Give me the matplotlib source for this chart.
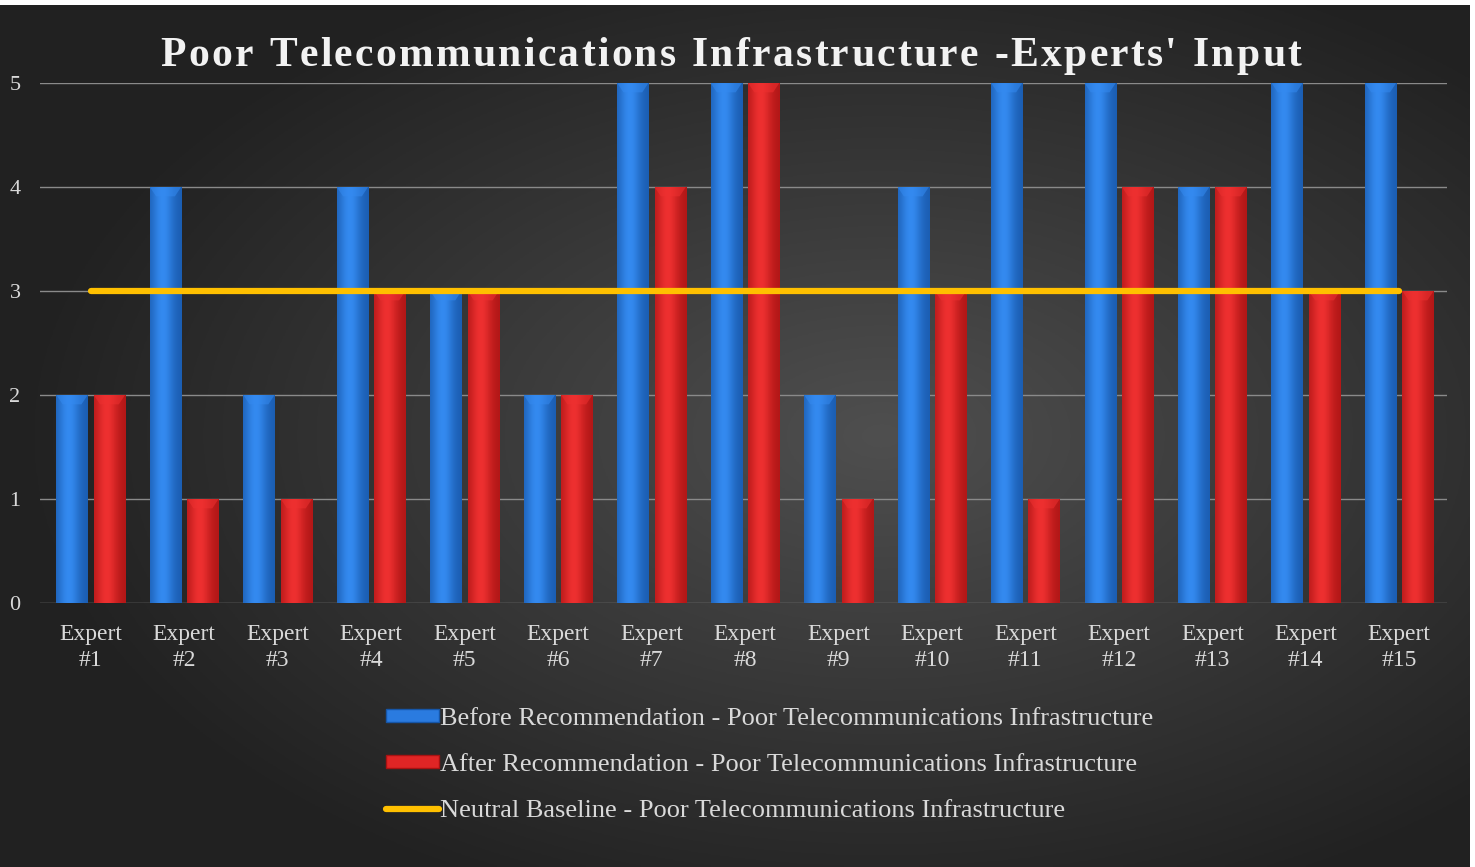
import matplotlib
matplotlib.use("Agg")
import matplotlib.pyplot as plt
import numpy as np
from matplotlib.patches import Patch
from matplotlib.lines import Line2D

experts = [f"Expert\n#{i}" for i in range(1, 16)]
before = [2, 4, 2, 4, 3, 2, 5, 5, 2, 4, 5, 5, 4, 5, 5]
after = [2, 1, 1, 3, 3, 2, 4, 5, 1, 3, 1, 4, 4, 3, 3]
baseline = [3] * 15

title = "Poor Telecommunications Infrastructure -Experts' Input"
lab_before = "Before Recommendation - Poor Telecommunications Infrastructure"
lab_after = "After Recommendation - Poor Telecommunications Infrastructure"
lab_base = "Neutral Baseline - Poor Telecommunications Infrastructure"

plt.rcParams["font.family"] = ["Liberation Serif", "DejaVu Serif"]
TXT = "#d9d9d9"

fig = plt.figure(figsize=(14.75, 8.67), dpi=100, facecolor="white")

# dark radial background
bg = fig.add_axes([0, 0, 0.996, 0.994], zorder=-5)
yy, xx = np.mgrid[0:1:300j, 0:1:500j]
r = np.sqrt(((xx - 0.6) / 0.85) ** 2 + ((yy - 0.5) / 0.85) ** 2)
shade = np.clip(0.31 - 0.26 * r, 0.13, 0.31)
bg.imshow(np.dstack([shade] * 3), extent=(0, 1, 0, 1), aspect="auto")
bg.axis("off")

# grid lines span a bit wider than the category area
grid_ax = fig.add_axes([40 / 1475, 0.3045, 1407 / 1475, 0.5998], zorder=-1)
grid_ax.patch.set_alpha(0)
grid_ax.set_ylim(0, 5)
grid_ax.set_yticks(range(6))
grid_ax.set_xticks([])
grid_ax.grid(axis="y", color="#8a8a8a", lw=1)
grid_ax.tick_params(axis="y", colors=TXT, labelsize=16, length=0, pad=14)
for s in grid_ax.spines.values():
    s.set_visible(False)

ax = fig.add_axes([44 / 1475, 0.3045, 1402 / 1475, 0.5998])
ax.patch.set_alpha(0)
x = np.arange(len(experts))
w = 0.335
bb = ax.bar(x - 0.2, before, w, color="#2a7be0", zorder=3)
ba = ax.bar(x + 0.2, after, w, color="#e02525", zorder=3)


def shade_bars(bars, dark, light):
    dark = np.array(matplotlib.colors.to_rgb(dark))
    light = np.array(matplotlib.colors.to_rgb(light))
    t = np.linspace(0, 1, 40)
    prof = np.exp(-((t - 0.4) / 0.35) ** 2)
    row = dark[None, :] + (light - dark)[None, :] * prof[:, None]
    img = row[None, :, :]
    for b in bars:
        x0, h, bw = b.get_x(), b.get_height(), b.get_width()
        im = ax.imshow(img, extent=(x0, x0 + bw, 0, h), aspect="auto", zorder=4)
        im.set_clip_path(b)
        # lighter bevel on top
        top = min(0.09, h)
        ax.fill([x0, x0 + bw, x0 + bw * 0.8, x0 + bw * 0.2],
                [h, h, h - top, h - top], color=light, alpha=0.55, zorder=5, lw=0)


shade_bars(bb, "#1a5cb0", "#348af0")
shade_bars(ba, "#b01616", "#ee3030")

ax.plot(x, baseline, color="#ffc000", lw=4.5, solid_capstyle="round", zorder=6)

ax.set_xlim(-0.5, 14.5)
ax.set_ylim(0, 5)
ax.set_yticks([])
ax.set_xticks(x)
ax.set_xticklabels(experts, color=TXT, fontsize=17, linespacing=1.35)
ax.tick_params(axis="x", length=0, pad=15)
for s in ax.spines.values():
    s.set_visible(False)

# title with letter spacing
fig.canvas.draw()
rend = fig.canvas.get_renderer()
tprops = dict(fontsize=30, fontweight="bold", color="#f2f2f2")
widths = []
for ch in title:
    t = fig.text(0, 0, ch if ch != " " else "i", **tprops)
    widths.append(t.get_window_extent(rend).width)
    t.remove()
track = 2.3
total = sum(widths) + track * (len(title) - 1)
cx = 731 - total / 2
for ch, cw in zip(title, widths):
    if ch != " ":
        fig.text(cx / 1475, 1 - 66 / 867, ch, va="baseline", **tprops)
    cx += cw + track

handles = [Patch(facecolor="#2a7be0", edgecolor="#1656a8"),
           Patch(facecolor="#e02525", edgecolor="#a81212"),
           Line2D([], [], color="#ffc000", lw=4.5, solid_capstyle="round")]
fig.legend(handles, [lab_before, lab_after, lab_base], loc="center",
           bbox_to_anchor=(770 / 1475, 1 - 765 / 867), frameon=False,
           fontsize=19, labelcolor=TXT, handlelength=2.0, handleheight=0.4,
           handletextpad=0.05, labelspacing=0.9)

fig.savefig("out.png", dpi=100, facecolor="white")
